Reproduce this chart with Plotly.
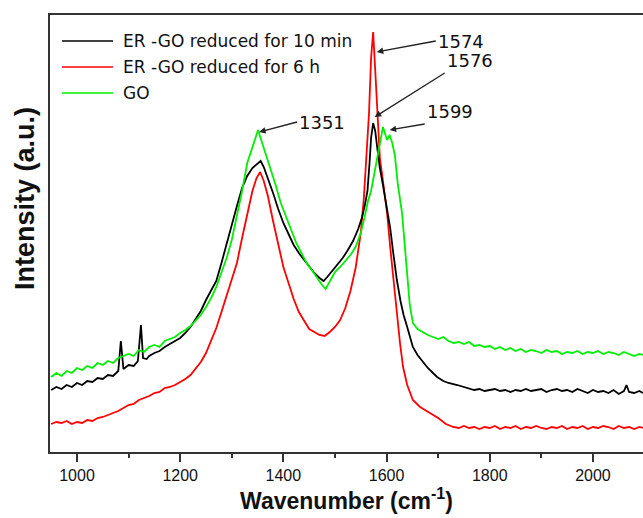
import plotly.graph_objects as go

# ---------------- data ----------------
go_x = [950, 960, 970, 980, 990, 1000, 1010, 1020, 1030, 1040, 1050, 1060, 1070, 1080, 1090,
        1100, 1110, 1120, 1130, 1140, 1150, 1160, 1170, 1180, 1190, 1200, 1210, 1220, 1230, 1240,
        1250, 1260, 1270, 1280, 1290, 1300, 1310, 1320, 1330, 1340, 1345, 1351, 1357, 1365, 1375,
        1385, 1395, 1405, 1415, 1425, 1435, 1445, 1455, 1465, 1475, 1482, 1490, 1500, 1510, 1520,
        1530, 1540, 1550, 1557, 1564, 1570, 1576, 1583, 1588, 1593, 1597, 1601, 1606, 1611, 1616,
        1622, 1630, 1636, 1641, 1645, 1651, 1660, 1670, 1680, 1690, 1700, 1710, 1720, 1730, 1740,
        1750, 1760, 1770, 1780, 1790, 1800, 1810, 1820, 1830, 1840, 1850, 1860, 1870, 1880, 1890,
        1900, 1910, 1920, 1930, 1940, 1950, 1960, 1970, 1980, 1990, 2000, 2010, 2020, 2030, 2040,
        2050, 2060, 2070, 2080, 2090, 2097]
go_y = [76, 80, 77, 82, 80, 85, 83, 87, 85, 90, 88, 92, 90, 95, 97,
        99, 97, 103, 101, 106, 108, 106, 112, 114, 116, 120, 123, 127, 133, 138,
        146, 155, 166, 180, 195, 213, 237, 262, 290, 305, 312, 323, 313, 300, 286,
        268, 250, 236, 222, 210, 200, 190, 183, 175, 168, 164, 172, 181, 186, 192,
        198, 206, 220, 235, 252, 262, 280, 300, 312, 326, 318, 313, 318, 310, 298,
        268, 240, 200, 170, 148, 130, 124, 121, 118, 116, 114, 116, 112, 110, 111,
        109, 111, 107, 108, 106, 107, 104, 106, 103, 105, 102, 104, 101, 103, 102,
        100, 103, 101, 102, 99, 101, 100, 102, 99, 101, 100, 102, 99, 101, 100,
        98, 101, 99, 97, 99, 98]

er10_x = [950, 960, 970, 980, 990, 1000, 1010, 1020, 1030, 1040, 1050, 1060, 1070, 1080, 1085,
          1090, 1100, 1110, 1118, 1124, 1128, 1135, 1140, 1150, 1160, 1170, 1180, 1190, 1200, 1210,
          1220, 1230, 1240, 1250, 1260, 1270, 1280, 1290, 1300, 1310, 1320, 1330, 1340, 1350, 1356,
          1362, 1370, 1380, 1390, 1400, 1410, 1420, 1430, 1440, 1450, 1460, 1470, 1478, 1485, 1495,
          1505, 1515, 1525, 1535, 1545, 1552, 1558, 1563, 1567, 1570, 1574, 1578, 1582, 1587, 1593,
          1598, 1603, 1607, 1613, 1620, 1627, 1633, 1640, 1646, 1651, 1660, 1671, 1680, 1690, 1698,
          1710, 1720, 1737, 1750, 1760, 1770, 1780, 1790, 1800, 1810, 1820, 1830, 1840, 1850, 1860,
          1870, 1880, 1890, 1900, 1910, 1920, 1930, 1940, 1950, 1960, 1970, 1980, 1990, 2000, 2010,
          2020, 2030, 2040, 2050, 2060, 2065, 2070, 2080, 2090, 2097]
er10_y = [63, 66, 64, 68, 66, 70, 68, 72, 71, 75, 74, 78, 77, 82, 112,
          84, 88, 87, 92, 128, 95, 94, 97, 100, 102, 106, 109, 112, 115, 120,
          126, 134, 142, 153, 162, 172, 190, 210, 230, 247, 265, 277, 285, 290, 292,
          286, 275, 260, 244, 230, 219, 208, 200, 193, 186, 180, 175, 172, 176, 182,
          188, 195, 203, 212, 224, 235, 248, 262, 290, 315, 330, 322, 305, 285, 268,
          252, 240, 225, 200, 173, 152, 138, 126, 115, 106, 98, 91, 85, 80, 76,
          72, 70, 68, 66, 65, 63, 64, 62, 63, 64, 62, 63, 61, 63, 62,
          64, 62, 63, 64, 61, 63, 64, 62, 63, 61, 64, 62, 60, 63, 61,
          62, 60, 63, 59, 62, 68, 61, 60, 62, 60]

er6h_x = [950, 960, 970, 980, 990, 1000, 1010, 1020, 1030, 1040, 1050, 1060, 1070, 1080, 1090,
          1100, 1110, 1120, 1130, 1140, 1150, 1160, 1170, 1180, 1190, 1200, 1210, 1220, 1230, 1240,
          1250, 1260, 1270, 1280, 1290, 1300, 1310, 1320, 1330, 1340, 1348, 1355, 1362, 1370, 1380,
          1390, 1400, 1410, 1420, 1430, 1440, 1450, 1460, 1470, 1480, 1490, 1500, 1510, 1520, 1530,
          1540, 1550, 1556, 1561, 1566, 1570, 1574, 1578, 1583, 1587, 1591, 1596, 1601, 1607, 1613,
          1620, 1626, 1632, 1640, 1651, 1665, 1684, 1700, 1715, 1729, 1740, 1750, 1760, 1770, 1780,
          1790, 1800, 1810, 1820, 1830, 1840, 1850, 1860, 1870, 1880, 1890, 1900, 1910, 1920, 1930,
          1940, 1950, 1960, 1970, 1980, 1990, 2000, 2010, 2020, 2030, 2040, 2050, 2060, 2070, 2080,
          2090, 2097]
er6h_y = [29, 31, 30, 32, 29, 31, 30, 33, 32, 35, 36, 38, 40, 42, 45,
          48, 49, 53, 55, 57, 60, 61, 65, 66, 68, 71, 74, 78, 84, 91,
          100, 112, 125, 141, 157, 173, 190, 215, 240, 262, 275, 281, 272, 257, 232,
          208, 186, 170, 154, 141, 132, 124, 121, 118, 117, 121, 126, 133, 145, 162,
          185, 220, 255, 300, 340, 395, 421, 383, 333, 295, 280, 262, 240, 206, 175,
          140, 110, 86, 68, 53, 46, 40, 35, 29, 26, 25, 27, 25, 26, 24,
          26, 25, 27, 24, 26, 25, 27, 24, 26, 25, 27, 25, 24, 26, 25,
          27, 24, 26, 25, 27, 24, 26, 25, 27, 26, 24, 27, 25, 26, 24,
          26, 25]

series_names = ["ER -GO reduced for 10 min", "ER -GO reduced for 6 h", "GO"]
series_colors = ["#000000", "#ff0000", "#00ee00"]

tick_vals = [1000, 1200, 1400, 1600, 1800, 2000]
tick_text = ["1000", "1200", "1400", "1600", "1800", "2000"]

peak_labels = ["1574", "1576", "1599", "1351"]
peak_tip_x = [1581, 1577, 1606, 1353]
peak_tip_y = [401, 336, 323, 321]
peak_ax = [59, 70, 35, 38]
peak_ay = [-11, -44, -6, -10]
peak_yanchor = ["middle", "bottom", "bottom", "middle"]

# ---------------- figure ----------------
fig = go.Figure()
for xs, ys, nm, col in [(er6h_x, er6h_y, series_names[1], series_colors[1]),
                        (er10_x, er10_y, series_names[0], series_colors[0]),
                        (go_x, go_y, series_names[2], series_colors[2])]:
    fig.add_trace(go.Scatter(x=xs, y=ys, mode="lines", name=nm,
                             line=dict(color=col, width=1.8), showlegend=False))

# manual legend (lines + text)
leg_y = [0.9405, 0.881, 0.8215]
for i, nm in enumerate(series_names):
    fig.add_shape(type="line", xref="paper", yref="paper", x0=0.0202, x1=0.1062,
                  y0=leg_y[i], y1=leg_y[i], line=dict(color=series_colors[i], width=1.6))
    fig.add_annotation(xref="paper", yref="paper", x=0.1197, y=leg_y[i], text=nm,
                       showarrow=False, xanchor="left", yanchor="middle",
                       font=dict(family="DejaVu Sans", size=17, color="#111"))

# peak annotations (label at arrow tail, arrow to the peak)
for lab, tx, ty, ax, ay, ya in zip(peak_labels, peak_tip_x, peak_tip_y, peak_ax, peak_ay,
                                   peak_yanchor):
    fig.add_annotation(x=tx, y=ty, text=lab, showarrow=True, ax=ax, ay=ay,
                       xanchor="left", yanchor=ya,
                       arrowhead=2, arrowsize=1, arrowwidth=1.3, arrowcolor="#222",
                       font=dict(family="DejaVu Sans", size=18, color="#111"))

# y-axis title as annotation (placed as in the reference)
fig.add_annotation(xref="paper", yref="paper", x=-0.042, y=0.579, text="<b>Intensity (a.u.)</b>",
                   textangle=-90, showarrow=False, xanchor="center", yanchor="middle",
                   font=dict(family="Liberation Sans", size=27, color="#111"))

fig.update_layout(
    width=643, height=518,
    margin=dict(l=50, r=0, t=15, b=66),
    paper_bgcolor="white", plot_bgcolor="white",
    showlegend=False,
    xaxis=dict(range=[947.7, 2097], tickvals=tick_vals, ticktext=tick_text,
               ticks="outside", ticklen=8, tickwidth=1.5, tickcolor="#333",
               minor=dict(dtick=100, tick0=1000, ticks="outside", ticklen=4, tickwidth=1.5, tickcolor="#333"),
               showline=True, linecolor="#333", linewidth=2, mirror=True,
               showgrid=False, zeroline=False,
               tickfont=dict(family="Liberation Sans", size=16, color="#111"),
               title=dict(text="<b>Wavenumber (cm<sup>-1</sup>)</b>", standoff=6,
                          font=dict(family="Liberation Sans", size=23, color="#111"))),
    yaxis=dict(range=[1, 438], showticklabels=False, ticks="", showgrid=False, zeroline=False,
               showline=True, linecolor="#333", linewidth=2, mirror=False),
)

fig.write_html("out.html")
